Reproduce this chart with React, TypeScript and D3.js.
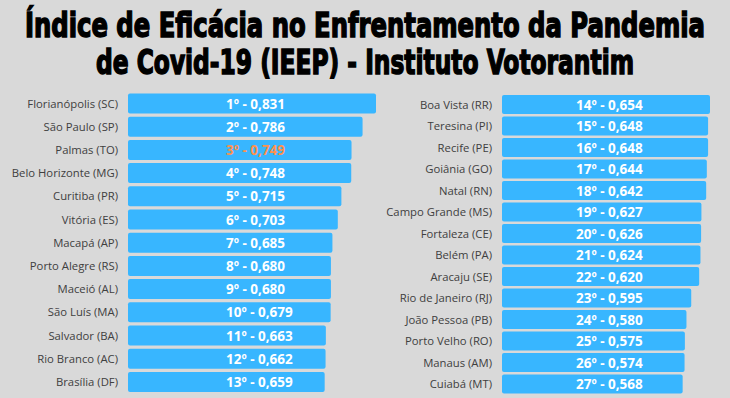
import * as d3 from "d3";
import React from "react";

const leftCities = [
  "Florianópolis (SC)", "São Paulo (SP)", "Palmas (TO)", "Belo Horizonte (MG)",
  "Curitiba (PR)", "Vitória (ES)", "Macapá (AP)", "Porto Alegre (RS)",
  "Maceió (AL)", "São Luís (MA)", "Salvador (BA)", "Rio Branco (AC)", "Brasília (DF)",
];
const leftValues = [0.831, 0.786, 0.749, 0.748, 0.715, 0.703, 0.685, 0.68, 0.68, 0.679, 0.663, 0.662, 0.659];

const rightCities = [
  "Boa Vista (RR)", "Teresina (PI)", "Recife (PE)", "Goiânia (GO)", "Natal (RN)",
  "Campo Grande (MS)", "Fortaleza (CE)", "Belém (PA)", "Aracaju (SE)",
  "Rio de Janeiro (RJ)", "João Pessoa (PB)", "Porto Velho (RO)", "Manaus (AM)", "Cuiabá (MT)",
];
const rightValues = [0.654, 0.648, 0.648, 0.644, 0.642, 0.627, 0.626, 0.624, 0.62, 0.595, 0.58, 0.575, 0.574, 0.568];

const titleLines = [
  "Índice de Eficácia no Enfrentamento da Pandemia",
  "de Covid-19 (IEEP) - Instituto Votorantim",
];

const W = 730;
const H = 398;
const barColor = "#38b6ff";
const highlight = "Palmas (TO)";

type ColProps = {
  cities: string[];
  values: number[];
  rankStart: number;
  x0: number;
  xEnd: number;
  yRange: [number, number];
  pad: number;
  textX: number;
};

function Column({ cities, values, rankStart, x0, xEnd, yRange, pad, textX }: ColProps) {
  const x = d3.scaleLinear().domain([0, d3.max(values)!]).range([x0, xEnd]);
  const y = d3.scaleBand<string>().domain(cities).range(yRange).paddingInner(pad).paddingOuter(pad / 2);
  const bw = y.bandwidth();
  return (
    <g>
      {cities.map((c, i) => {
        const yy = y(c)!;
        const label = `${rankStart + i}º - ${values[i].toFixed(3).replace(".", ",")}`;
        return (
          <g key={c}>
            <text
              x={x0 - 10}
              y={yy + bw / 2 + 4}
              textAnchor="end"
              fontFamily="'Open Sans', sans-serif"
              fontSize={11.3}
              fill="#404040"
            >
              {c}
            </text>
            <rect x={x(0)} y={yy} width={x(values[i]) - x(0)} height={bw} rx={2} fill={barColor} />
            <text
              x={textX}
              y={yy + bw / 2 + 5}
              fontFamily="'Open Sans', sans-serif"
              fontWeight="bold"
              fontSize={13.5}
              fill={c === highlight ? "#ff914d" : "#fff"}
            >
              {label}
            </text>
          </g>
        );
      })}
    </g>
  );
}

// title: narrow bold font, stretched vertically to look like a condensed display face
function Title() {
  const lines: [string, number, number][] = [
    [titleLines[0], 37, 680],
    [titleLines[1], 74, 538],
  ];
  return (
    <g>
      {lines.map(([t, y, len]) => (
        <text
          key={t}
          transform={`translate(${W / 2},${y}) scale(1,1.35)`}
          textAnchor="middle"
          textLength={len}
          lengthAdjust="spacingAndGlyphs"
          fontFamily="'Liberation Sans Narrow', 'DejaVu Sans Condensed', sans-serif"
          fontWeight="bold"
          fontSize={25.5}
          fill="#000"
          stroke="#000"
          strokeWidth={1.1}
        >
          {t}
        </text>
      ))}
    </g>
  );
}

export default function App() {
  return (
    <svg width={W} height={H} style={{ position: "absolute", left: 0, top: 0 }}>
      <rect width={W} height={H} fill="#d9d9d9" />
      <Title />
      <Column
        cities={leftCities}
        values={leftValues}
        rankStart={1}
        x0={128}
        xEnd={376}
        yRange={[91.9, 393.5]}
        pad={0.14}
        textX={226}
      />
      <Column
        cities={rightCities}
        values={rightValues}
        rankStart={14}
        x0={502}
        xEnd={710}
        yRange={[93.75, 394.75]}
        pad={0.116}
        textX={576}
      />
    </svg>
  );
}
